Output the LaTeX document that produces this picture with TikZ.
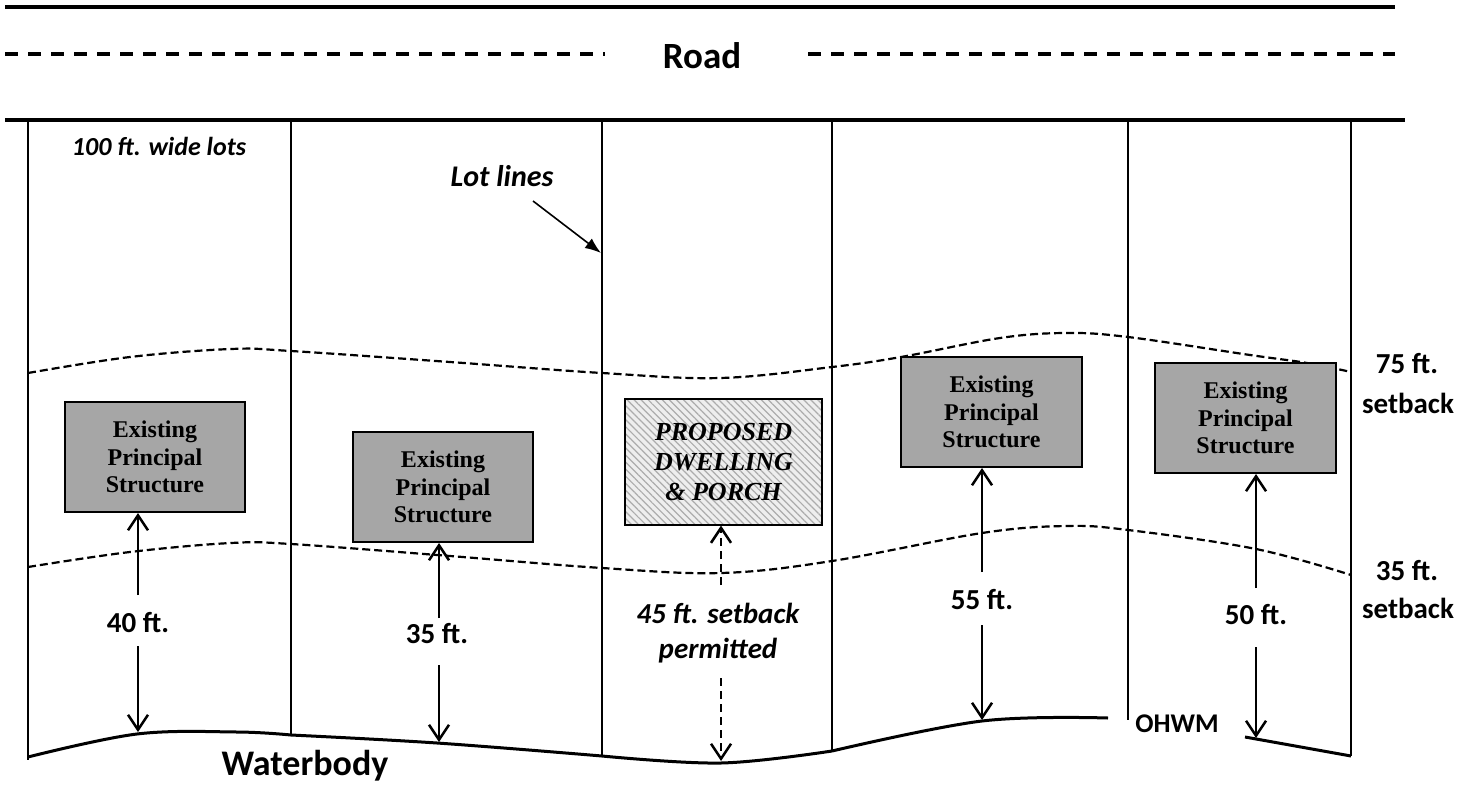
\documentclass[tikz,border=0pt]{standalone}
\usepackage{fontspec}
\setmainfont{Liberation Serif}
\newfontfamily\calfont{Carlito}
\usetikzlibrary{arrows.meta,patterns.meta}
\definecolor{boxgray}{RGB}{166,166,166}
\definecolor{hatchbg}{RGB}{238,238,238}
\begin{document}
\begin{tikzpicture}[x=1pt,y=-1pt,
  roadline/.style={line width=4.7pt},
  roaddash/.style={line width=3.4pt, dash pattern=on 13pt off 10pt},
  lotline/.style={line width=2.8pt},
  waterline/.style={line width=3pt},
  setbackline/.style={line width=2.2pt, dash pattern=on 8pt off 4pt},
  dim/.style={line width=2.5pt, -{Straight Barb[length=15pt,width=20pt,line width=2.5pt]}},
  dimdash/.style={dim, dash pattern=on 8pt off 5pt},
  pointer/.style={line width=1.6pt, -{Latex[length=16pt,width=12pt]}},
  existing/.style={draw, line width=2pt, fill=boxgray, minimum width=180pt, minimum height=110pt,
    inner sep=0pt, align=center, font=\bfseries\fontsize{24}{27.5}\selectfont},
  proposed/.style={draw, line width=2pt, preaction={fill=hatchbg},
    pattern={Lines[angle=-45,distance=5pt,line width=1.2pt]}, pattern color=gray!65,
    minimum width=197pt, minimum height=126pt, inner sep=0pt, align=center,
    font=\bfseries\itshape\fontsize{26}{30}\selectfont},
  lbl/.style={anchor=base, inner sep=0pt, font=\calfont\bfseries\fontsize{29}{34}\selectfont},
  lbli/.style={anchor=base, inner sep=0pt, font=\calfont\bfseries\itshape\fontsize{29}{34}\selectfont}
]
\useasboundingbox (0,0) rectangle (1477,784);

% road
\coordinate (rt1) at (5,7);      \coordinate (rt2) at (1395,7);
\coordinate (rb1) at (5,120);    \coordinate (rb2) at (1405,120);
\coordinate (rd1) at (5,54);     \coordinate (rd2) at (605,54);
\coordinate (rd3) at (808,54);   \coordinate (rd4) at (1395,54);
\draw[roadline] (rt1) -- (rt2);
\draw[roadline] (rb1) -- (rb2);
\draw[roaddash] (rd1) -- (rd2);
\draw[roaddash] (rd3) -- (rd4);
\node[lbl, font=\calfont\bfseries\fontsize{37}{44}\selectfont] (road) at (702,69) {Road};

% lot lines
\draw[lotline, line width=2.2pt] (28,120) -- (28,760);
\draw[lotline] (291,120) -- (291,734);
\draw[lotline] (602,120) -- (602,757);
\draw[lotline] (832,120) -- (832,752);
\draw[lotline] (1128,120) -- (1128,720);
\draw[lotline] (1351,120) -- (1351,756);

% waterline
\draw[waterline] plot[smooth, tension=0.6] coordinates {(28,757) (137,734) (237,732) (291,735)};
\draw[waterline] plot[smooth, tension=0.6] coordinates {(291,735) (437,743) (602,756)};
\draw[waterline] plot[smooth, tension=0.6] coordinates {(602,756) (721,763) (832,751)};
\draw[waterline] plot[smooth, tension=0.6] coordinates {(832,751) (982,721) (1108,718)};
\draw[waterline] (1245,737) -- (1351,756);

% setback curves
\draw[setbackline] plot[smooth, tension=0.6] coordinates {(28,373) (130,357) (231,349) (291,351) (450,362) (602,373) (720,378) (832,367) (901,357) (1000,338) (1066,333) (1128,337) (1250,355) (1307,363) (1351,372)};
\draw[setbackline] plot[smooth, tension=0.6] coordinates {(28,567) (130,552) (231,543) (291,544) (450,556) (602,568) (721,573) (832,561) (982,533) (1066,526) (1128,530) (1256,549) (1351,575)};

% structures
\node[existing] (b1) at (155,457) {Existing\\Principal\\Structure};
\node[existing] (b2) at (443,487) {Existing\\Principal\\Structure};
\node[proposed] (b3) at (723.5,462) {PROPOSED\\DWELLING\\\& PORCH};
\node[existing, minimum width=181pt] (b4) at (991.5,412) {Existing\\Principal\\Structure};
\node[existing, minimum width=181pt] (b5) at (1245.5,418) {Existing\\Principal\\Structure};

% labels
\node[lbli, font=\calfont\bfseries\itshape\fontsize{26}{31}\selectfont] (wide) at (159,155) {100 ft. wide lots};
\node[lbli, font=\calfont\bfseries\itshape\fontsize{30}{36}\selectfont] (lotlbl) at (502,186) {Lot lines};
\coordinate (lp1) at (533,201);
\coordinate (lp2) at (601,253);
\draw[pointer] (lp1) -- (lp2);

\node[lbl] (s75a) at (1407,373) {75 ft.};
\node[lbl] (s75b) at (1408,413) {setback};
\node[lbl] (s35a) at (1407,580) {35 ft.};
\node[lbl] (s35b) at (1408,618) {setback};

\node[lbl] (l40) at (138,632) {40 ft.};
\node[lbl] (l35) at (437,643) {35 ft.};
\node[lbli] (l45a) at (718,623) {45 ft. setback};
\node[lbli] (l45b) at (718,658) {permitted};
\node[lbl] (l55) at (982,609) {55 ft.};
\node[lbl] (l50) at (1256,624) {50 ft.};
\node[lbl, font=\calfont\bfseries\fontsize{27}{32}\selectfont] (ohwm) at (1177,732) {OHWM};
\node[lbl, font=\calfont\bfseries\fontsize{36}{43}\selectfont] (water) at (305,775) {Waterbody};

% dimension arrows
\coordinate (a1u) at (138,595);  \coordinate (a1d) at (138,646);  \coordinate (a1w) at (138,732);
\draw[dim] (a1u) -- (a1u |- b1.south);
\draw[dim] (a1d) -- (a1w);

\coordinate (a2u) at (439,618);  \coordinate (a2d) at (439,665);  \coordinate (a2w) at (439,742);
\draw[dim] (a2u) -- (a2u |- b2.south);
\draw[dim] (a2d) -- (a2w);

\coordinate (a3u) at (721,585);  \coordinate (a3d) at (721,678);  \coordinate (a3w) at (721,761);
\draw[dimdash] (a3u) -- (a3u |- b3.south);
\draw[dimdash] (a3d) -- (a3w);

\coordinate (a4u) at (982,572);  \coordinate (a4d) at (982,625);  \coordinate (a4w) at (982,720);
\draw[dim] (a4u) -- (a4u |- b4.south);
\draw[dim] (a4d) -- (a4w);

\coordinate (a5u) at (1256,588); \coordinate (a5d) at (1256,647); \coordinate (a5w) at (1256,738);
\draw[dim] (a5u) -- (a5u |- b5.south);
\draw[dim] (a5d) -- (a5w);
\end{tikzpicture}
\end{document}
